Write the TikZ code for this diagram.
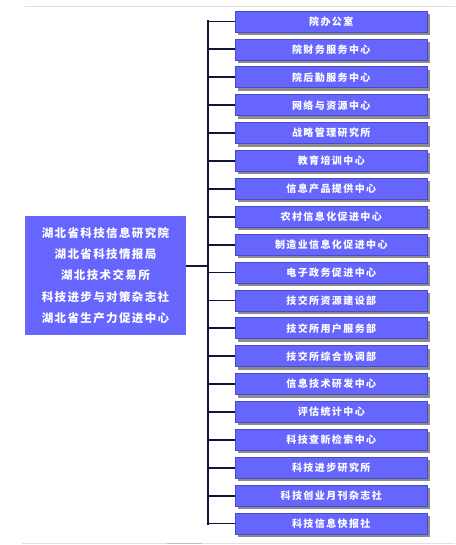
\documentclass[tikz,border=0pt]{standalone}
\usepackage{fontspec}
\newfontfamily\cjk[LetterSpace=14]{Noto Sans CJK SC}
\newfontfamily\cjkl[LetterSpace=12]{Noto Sans CJK SC}
\definecolor{boxblue}{HTML}{6666FF}
\definecolor{boxedge}{HTML}{4A4AC8}
\definecolor{linenavy}{HTML}{14143A}
\definecolor{shadowgray}{HTML}{8C8C8C}
\begin{document}
\begin{tikzpicture}[x=1pt,y=-1pt,
  unit/.style={fill=boxblue, draw=boxedge, line width=0.6pt, minimum width=192pt, minimum height=21pt, inner sep=0pt,
     text=white, font=\cjk\bfseries\fontsize{10}{12}\selectfont, anchor=west},
  head/.style={fill=boxblue, minimum width=161pt, minimum height=119pt, inner sep=0pt, text=white, align=center,
     font=\cjkl\bfseries\fontsize{11.5}{21.3}\selectfont},
  conn/.style={draw=linenavy, line width=1.8pt},
  trunk/.style={draw=linenavy, line width=2.4pt},
  faint/.style={draw=black!12, line width=0.8pt}]
\useasboundingbox (0,0) rectangle (455,545);
\draw[faint] (25,6) -- (455,6);
\draw[faint] (22,543) -- (455,543);
\draw[draw=black!25, line width=0.8pt] (167,543) -- (202,543);
\foreach \t [count=\i from 0] in {院办公室,院财务服务中心,院后勤服务中心,网络与资源中心,战略管理研究所,教育培训中心,信息产品提供中心,农村信息化促进中心,制造业信息化促进中心,电子政务促进中心,技交所资源建设部,技交所用户服务部,技交所综合协调部,信息技术研发中心,评估统计中心,科技查新检索中心,科技进步研究所,科技创业月刊杂志社,科技信息快报社}{
  \fill[shadowgray] (238,{21.5+27.89*\i-10.5+3}) rectangle (430,{21.5+27.89*\i+10.5+3});
  \node[unit] (b\i) at (235,{21.5+27.89*\i}) {\t};
}
\node[head] (left) at (105.5,275.5) {湖北省科技信息研究院\\湖北省科技情报局\\湖北技术交易所\\科技进步与对策杂志社\\湖北省生产力促进中心};
\coordinate (ttop) at (208,21.5);
\coordinate (tbot) at (208,{21.5+27.89*18});
\coordinate (lout) at (left.east |- 0,266);
\foreach \i in {0,...,18}{
  \draw[conn] (ttop |- b\i.west) -- (b\i.west);
}
\draw[trunk] ([yshift=1.2pt]ttop) -- ([yshift=-1.2pt]tbot);
\draw[conn] (lout) -- (lout -| ttop);
\end{tikzpicture}
\end{document}
